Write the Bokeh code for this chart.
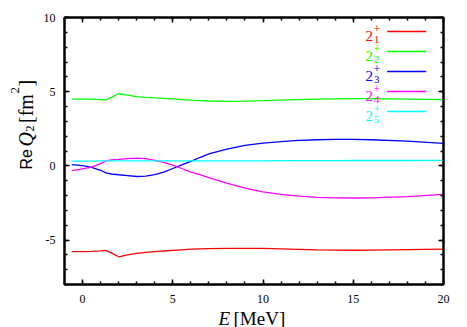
import numpy as np
from bokeh.plotting import figure
from bokeh.models import Label, LinearAxis, Range1d, FixedTicker
from bokeh.layouts import row, column
from bokeh.embed import file_html
from bokeh.resources import INLINE

# ---------------- data ----------------
energy = [-0.6, 0.0, 0.5, 1.0, 1.3, 1.6, 2.0, 2.5, 3.0, 3.5, 4.0, 4.5, 5.0, 5.5, 6.0, 6.5,
          7.0, 8.0, 9.0, 10.0, 11.0, 12.0, 13.0, 14.0, 15.0, 16.0, 18.0, 20.0]
q_2p1 = [-5.79, -5.78, -5.77, -5.73, -5.70, -5.87, -6.13, -6.00, -5.90, -5.84, -5.79, -5.74, -5.70, -5.66,
         -5.62, -5.60, -5.58, -5.56, -5.56, -5.57, -5.60, -5.63, -5.66, -5.68, -5.69, -5.68, -5.65, -5.62]
q_2p2 = [4.50, 4.50, 4.50, 4.47, 4.44, 4.62, 4.86, 4.76, 4.67, 4.62, 4.58, 4.55, 4.51, 4.47,
         4.43, 4.40, 4.37, 4.35, 4.36, 4.39, 4.43, 4.47, 4.50, 4.52, 4.53, 4.53, 4.50, 4.47]
q_2p3 = [0.08, 0.02, -0.10, -0.30, -0.48, -0.55, -0.60, -0.66, -0.72, -0.70, -0.60, -0.42, -0.18, 0.06,
         0.30, 0.56, 0.80, 1.13, 1.38, 1.53, 1.63, 1.71, 1.76, 1.79, 1.79, 1.76, 1.66, 1.52]
q_2p4 = [-0.32, -0.20, -0.08, 0.15, 0.33, 0.40, 0.43, 0.48, 0.52, 0.48, 0.37, 0.23, 0.05, -0.18,
         -0.42, -0.60, -0.80, -1.17, -1.50, -1.75, -1.93, -2.04, -2.12, -2.16, -2.17, -2.16, -2.07, -1.92]
q_2p5 = [0.32, 0.32, 0.32, 0.33, 0.33, 0.33, 0.33, 0.33, 0.33, 0.33, 0.33, 0.33, 0.33, 0.33,
         0.34, 0.34, 0.34, 0.34, 0.34, 0.34, 0.35, 0.35, 0.35, 0.35, 0.36, 0.36, 0.36, 0.37]
series = [q_2p1, q_2p2, q_2p3, q_2p4, q_2p5]
state_index = ["1", "2", "3", "4", "5"]
colors = ["#ff0000", "#00ff00", "#0000ff", "#ff00ff", "#00ffff"]
x_ticks = [0, 5, 10, 15, 20]
y_ticks = [-5, 0, 5, 10]
y_tick_labels = {-5: "-5", 0: "0", 5: "5", 10: "10"}

# ---------------- layout (page pixels) ----------------
W, H = 467, 327
LW = 40          # left strip holding the y-axis title
TH = 308         # height of the upper row (strip + plot)
XH = 30          # height of the x-title strip
XO = TH + XH - H  # overlap of the x-title strip with the row above
X0, X1, Y0, Y1 = -1, 20, -8, 10
FL, FR, FT, FB = 64, 443, 17, 284  # frame edges in page pixels
SERIF = "Liberation Serif"
SANS = "Liberation Sans"


def add_text(fig, t, x, y, font=SERIF, size="15px", color="black", style="normal",
             align="left", angle=0.0):
    fig.add_layout(Label(x=x, y=y, x_units="screen", y_units="screen",
                         text=t, text_align=align, text_baseline="alphabetic",
                         text_font=font, text_font_style=style, text_font_size=size,
                         text_color=color, angle=angle))


def bare_fig(w, h, fill="white"):
    f = figure(width=w, height=h, x_range=Range1d(0, 1), y_range=Range1d(0, 1),
               output_backend="svg", toolbar_location=None,
               x_axis_location=None, y_axis_location=None,
               min_border_left=0, min_border_right=0, min_border_top=0, min_border_bottom=0)
    f.xgrid.visible = False
    f.ygrid.visible = False
    f.outline_line_color = None
    f.background_fill_color = fill
    f.border_fill_color = fill
    return f


# main plot
p = figure(width=W - LW, height=TH, x_range=Range1d(X0, X1), y_range=Range1d(Y0, Y1),
           output_backend="svg", toolbar_location=None,
           min_border_left=FL - LW, min_border_right=W - FR,
           min_border_top=FT, min_border_bottom=TH - FB)
p.xgrid.visible = False
p.ygrid.visible = False
p.outline_line_color = "black"
p.outline_line_width = 2
p.background_fill_color = "white"
p.border_fill_color = "white"

xt = FixedTicker(ticks=x_ticks, minor_ticks=list(np.arange(X0, X1 + 1, 1.0)))
yt = FixedTicker(ticks=y_ticks, minor_ticks=list(np.arange(Y0, Y1 + 1, 1.0)))

p.add_layout(LinearAxis(), "above")
p.add_layout(LinearAxis(), "right")

for ax in p.axis:
    ax.axis_line_color = "black"
    ax.axis_line_width = 2
    ax.major_tick_in = 5
    ax.major_tick_out = 0
    ax.minor_tick_in = 3
    ax.minor_tick_out = 0
    ax.major_tick_line_width = 1.5
    ax.minor_tick_line_width = 1.5
    ax.major_label_text_font = SERIF
    ax.major_label_text_font_size = "12px"
    ax.major_label_text_color = "black"

for ax in p.xaxis:
    ax.ticker = xt
for ax in p.yaxis:
    ax.ticker = yt

p.below[0].major_label_standoff = 10
p.left[0].major_label_standoff = 9
p.left[0].major_label_overrides = y_tick_labels
for ax in (p.above[0], p.right[0]):
    ax.major_label_text_font_size = "1px"
    ax.major_label_text_color = None
    ax.major_label_standoff = 0

# curves
for ys, c in zip(series, colors):
    p.line(energy, ys, line_color=c, line_width=1.3)

# legend (text on the left, sample line on the right), inside the frame
lx0 = X0 + (386.7 - FL) * (X1 - X0) / (FR - FL)
lx1 = X0 + (425.7 - FL) * (X1 - X0) / (FR - FL)
for i, (c, k) in enumerate(zip(colors, state_index)):
    ly = 31 + 20 * i
    yy = Y1 - (ly - FT) * (Y1 - Y0) / (FB - FT)
    p.line([lx0, lx1], [yy, yy], line_color=c, line_width=1.3)
    add_text(p, "2", 372.5 - FL, FB - (ly + 4.5), size="15px", color=c, align="right")
    add_text(p, "+", 373 - FL, FB - (ly - 2.5), size="12px", color=c)
    add_text(p, k, 373.5 - FL, FB - (ly + 7.5), size="11px", color=c)

# y axis title strip: Re Q_2 [fm^2]
yfig = bare_fig(LW, TH)
rot = np.pi / 2
for t, font, style, size, px, py in [
        ("Re", SANS, "normal", "16px", 25.5, 193),
        ("Q", SERIF, "italic", "20px", 25.5, 170),
        ("2", SERIF, "normal", "12px", 29, 155),
        ("[fm", SERIF, "normal", "20px", 25.5, 146.5),
        ("2", SERIF, "normal", "13px", 14, 117),
        ("]", SERIF, "normal", "20px", 25.5, 110)]:
    add_text(yfig, t, px, TH - py, font=font, style=style, size=size, angle=rot)

# x axis title strip: E [MeV]  (transparent, slightly overlapping the row above)
xfig = bare_fig(W, XH, fill=None)
xfig.margin = (-XO, 0, 0, 0)
add_text(xfig, "E", 218, H - 317.5, size="19px", style="italic")
add_text(xfig, "[MeV]", 233, H - 317.5, size="19px")

layout = column(row(yfig, p, spacing=0), xfig, spacing=0)

open("out.html", "w").write(file_html(layout, INLINE))
